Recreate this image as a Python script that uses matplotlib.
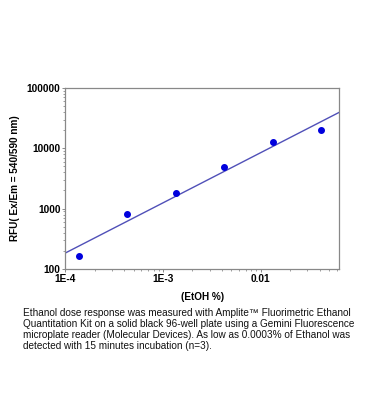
import numpy as np
import matplotlib.pyplot as plt

# Datos
etoh = [1.37e-4, 4.27e-4, 1.36e-3, 4.25e-3, 1.33e-2, 4.15e-2]
rfu = [162, 807, 1790, 4990, 12560, 19800]

# Extremos de la recta de ajuste
fit_x = [1e-4, 0.064]
fit_y = [184, 39700]

xticks = [1e-4, 1e-3, 1e-2]
xtick_labels = ['1E-4', '1E-3', '0.01']
yticks = [100, 1000, 10000, 100000]
ytick_labels = ['100', '1000', '10000', '100000']

caption = ("Ethanol dose response was measured with Amplite\u2122 Fluorimetric Ethanol\n"
           "Quantitation Kit on a solid black 96-well plate using a Gemini Fluorescence\n"
           "microplate reader (Molecular Devices). As low as 0.0003% of Ethanol was\n"
           "detected with 15 minutes incubation (n=3).")

plt.rcParams['font.family'] = ['Liberation Sans', 'DejaVu Sans']

fig = plt.figure(figsize=(3.69, 4.19), dpi=100)
ax = fig.add_axes([0.177, 0.358, 0.743, 0.432])

ax.plot(fit_x, fit_y, color='#5050b8', linewidth=1.0)
ax.scatter(etoh, rfu, s=16, color='#0000dd', zorder=3)

ax.set_xscale('log')
ax.set_yscale('log')
ax.set_xlim(1e-4, 0.064)
ax.set_ylim(100, 100000)

ax.set_xticks(xticks)
ax.set_xticklabels(xtick_labels, fontsize=7.3, fontweight='bold')
ax.set_yticks(yticks)
ax.set_yticklabels(ytick_labels, fontsize=7.3, fontweight='bold')
ax.tick_params(which='major', length=2, width=0.6, color='#777777', pad=1.5)
ax.tick_params(which='minor', length=1.2, width=0.5, color='#777777')
ax.tick_params(top=False, right=False, which='both')

for s in ax.spines.values():
    s.set_color('#888888')
    s.set_linewidth(0.9)

ax.set_xlabel('(EtOH %)', fontsize=7.2, fontweight='bold', labelpad=6)
ax.set_ylabel('RFU( Ex/Em = 540/590 nm)', fontsize=7.2, fontweight='bold', labelpad=5)

fig.text(0.062, 0.264, caption, fontsize=7.2, ha='left', va='top',
         linespacing=1.1, color='#111111')

plt.savefig('out.png', dpi=100)
